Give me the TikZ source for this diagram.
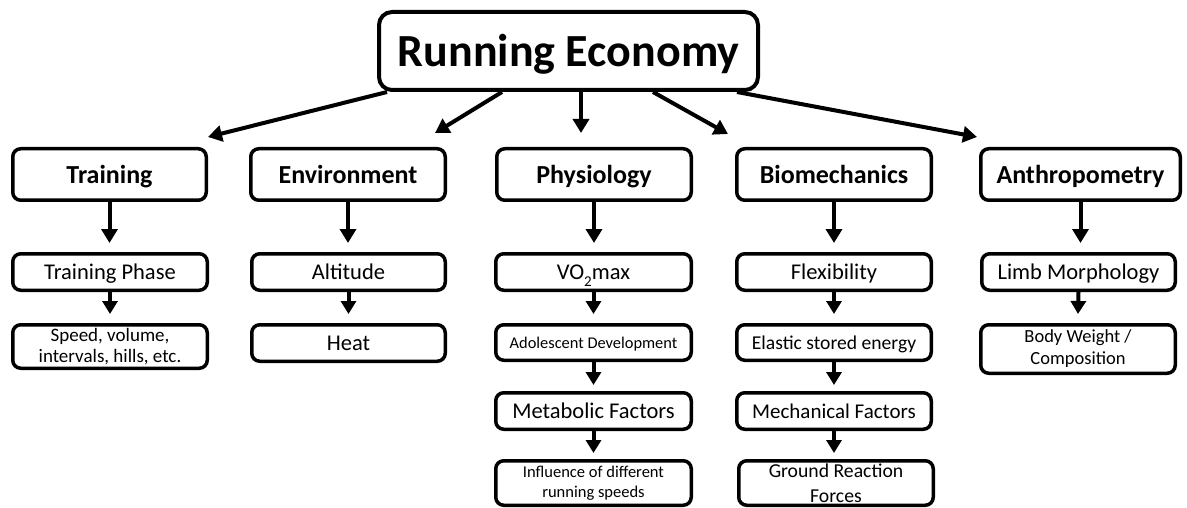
\documentclass[tikz,border=0pt]{standalone}
\usepackage{fontspec}
\setmainfont{Carlito}
\usetikzlibrary{arrows.meta}
\newcommand{\fsz}[2]{\fontsize{#1}{#2}\selectfont}
\begin{document}
\begin{tikzpicture}[x=1pt,y=-1pt,
  box/.style={draw, line width=3.5pt, rounded corners=8pt, inner sep=0pt, align=center},
  topbox/.style={draw, line width=4pt, rounded corners=13pt, inner sep=0pt, align=center,
    text height=43.7pt, text depth=12.4pt, font=\bfseries\fsz{46}{50}},
  lone/.style={box, minimum height=51.5pt, text height=24.7pt, text depth=7pt, font=\bfseries\fsz{26}{30}},
  ltwo/.style={box, minimum height=36.5pt, text height=21.4pt, text depth=6.1pt, font=\fsz{22.5}{26}},
  arr/.style={line width=4pt, -{Triangle[length=14pt,width=16pt]}},
  sarr/.style={line width=4pt, -{Triangle[length=13pt,width=15pt]}}]
\useasboundingbox (0,0) rectangle (1187,508);

% top
\node[topbox, minimum width=379pt, minimum height=78pt] (top) at (568.5,51) {Running Economy};

% level 1
\node[lone, minimum width=193.5pt] (trn) at (109.5,174.5) {Training};
\node[lone, minimum width=194.5pt] (env) at (348,174.5) {Environment};
\node[lone, minimum width=194.5pt] (phy) at (594,174.5) {Physiology};
\node[lone, minimum width=194.5pt] (bio) at (834,174.5) {Biomechanics};
\node[lone, minimum width=199.5pt] (ant) at (1080.5,174.5) {Anthropometry};

% level 2
\node[ltwo, minimum width=194.5pt] (tph) at (110,272) {Training Phase};
\node[ltwo, minimum width=193.5pt] (alt) at (348.5,272) {Altitude};
\node[ltwo, minimum width=195.5pt] (vo) at (593.5,272) {VO\raisebox{-0.32em}{\fsz{15}{15}2}max};
\node[ltwo, minimum width=194.5pt] (flx) at (834,272) {Flexibility};
\node[ltwo, minimum width=193.5pt] (lmb) at (1078.5,272) {Limb Morphology};

% level 3
\node[box, minimum width=194.5pt, minimum height=43.5pt, font=\fsz{19}{20.5}] (spd) at (110,346.5) {Speed, volume,\\intervals, hills, etc.};
\node[ltwo, minimum width=193.5pt] (heat) at (348.5,343) {Heat};
\node[box, minimum width=195.5pt, minimum height=35.5pt, text height=15.6pt, text depth=4.4pt, font=\fsz{16.4}{19}] (ado) at (593.5,342.5) {Adolescent Development};
\node[box, minimum width=194.5pt, minimum height=35.5pt, text height=18.6pt, text depth=5.3pt, font=\fsz{19.6}{22}] (ela) at (834,342.5) {Elastic stored energy};
\node[box, minimum width=194.5pt, minimum height=48.5pt, font=\fsz{18.5}{22}] (bw) at (1078,349) {Body Weight /\\Composition};

% level 4
\node[ltwo, minimum width=195.5pt] (met) at (593.5,411) {Metabolic Factors};
\node[box, minimum width=194.5pt, minimum height=36.5pt, text height=20pt, text depth=5.7pt, font=\fsz{21}{24}] (mec) at (834,411) {Mechanical Factors};

% level 5
\node[box, minimum width=195.5pt, minimum height=44.5pt, font=\fsz{16.5}{20}] (inf) at (593.5,483) {Influence of different\\running speeds};
\node[box, minimum width=194.5pt, minimum height=44.5pt, font=\fsz{19.7}{25}] (grf) at (836,483) {Ground Reaction\\Forces};

% arrows from top
\draw[arr] ([xshift=-181.5pt]top.south) -- ([yshift=10pt]trn.north east);
\draw[arr] ([xshift=-66.5pt]top.south) -- ([xshift=-12pt,yshift=14pt]env.north east);
\draw[arr] ([xshift=12.5pt]top.south) -- ([xshift=-13pt,yshift=14pt]phy.north);
\draw[arr] ([xshift=84.5pt]top.south) -- ([xshift=-7pt,yshift=13pt]bio.north west);
\draw[arr] ([xshift=168.5pt]top.south) -- ([xshift=-2pt,yshift=10pt]ant.north west);

% vertical arrows level 1 -> 2
\draw[arr] (trn.south) -- ([yshift=9pt]trn.south |- tph.north);
\draw[arr] (env.south) -- ([yshift=9pt]env.south |- alt.north);
\draw[arr] (phy.south) -- ([yshift=9pt]phy.south |- vo.north);
\draw[arr] (bio.south) -- ([yshift=9pt]bio.south |- flx.north);
\draw[arr] (ant.south) -- ([yshift=9pt]ant.south |- lmb.north);

% level 2 -> 3
\draw[sarr] (tph.south) -- ([yshift=9pt]spd.north);
\draw[sarr] (alt.south) -- ([yshift=9pt]heat.north);
\draw[sarr] (vo.south) -- ([yshift=9pt]ado.north);
\draw[sarr] (flx.south) -- ([yshift=9pt]ela.north);
\draw[sarr] (lmb.south) -- ([yshift=9pt]bw.north);

% level 3 -> 4
\draw[sarr] (ado.south) -- ([yshift=6pt]met.north);
\draw[sarr] (ela.south) -- ([yshift=6pt]mec.north);

% level 4 -> 5
\draw[sarr] (met.south) -- ([yshift=6pt]inf.north);
\draw[sarr] (mec.south) -- ([yshift=6pt]mec.south |- grf.north);
\end{tikzpicture}
\end{document}
